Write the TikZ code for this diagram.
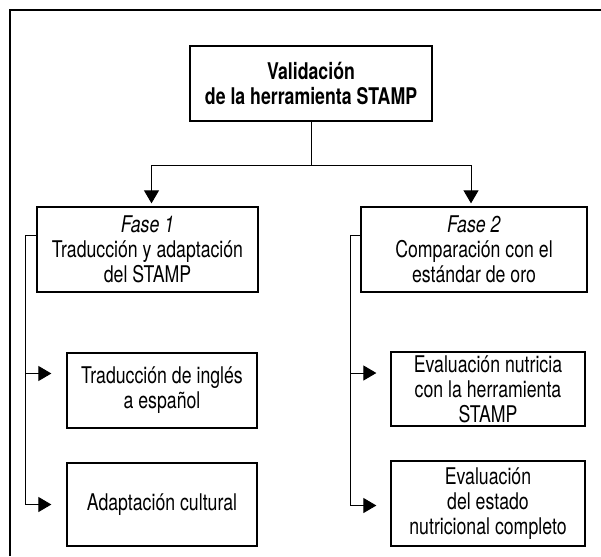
\documentclass[tikz,border=0pt]{standalone}
\usepackage{fontspec}
\setmainfont[FakeStretch=0.77]{TeX Gyre Heros}
\usetikzlibrary{arrows.meta}

\begin{document}
\begin{tikzpicture}[x=1pt,y=-1pt,
		caja/.style={draw,line width=1.3pt,align=center,inner sep=0pt,font=\fontsize{23}{25}\selectfont},
		linea/.style={line width=1pt},
		flecha/.style={line width=1pt,-{Triangle[width=15pt,length=13pt]}}]
		%\draw [help lines] (0,0) grid (601,556);
		\useasboundingbox (0,0) rectangle (601,556);
		
		%MARCO
		\draw[line width=2.5pt] (10,556) -- (10,10) -- (601,10);
		
		%CAJAS
		\node[caja,minimum width=242pt,minimum height=75pt] (valida) at (311,83.5)
			{\textbf{Validación}\\\textbf{de la herramienta STAMP}};
		\node[caja,minimum width=221pt,minimum height=85pt] (fase1) at (147.5,249.5)
			{\textit{Fase 1}\\Traducción y adaptación\\del STAMP};
		\node[caja,minimum width=226pt,minimum height=85pt] (fase2) at (474,249.5)
			{\textit{Fase 2}\\Comparación con el\\estándar de oro};
		\node[caja,minimum width=190pt,minimum height=75pt] (trad) at (162,390.5)
			{Traducción de inglés\\a español};
		\node[caja,minimum width=190pt,minimum height=83pt] (adap) at (162,504.5)
			{Adaptación cultural};
		\node[caja,minimum width=194pt,minimum height=74pt] (eval1) at (488,389)
			{Evaluación nutricia\\con la herramienta\\STAMP};
		\node[caja,minimum width=194pt,minimum height=85pt] (eval2) at (488,503.5)
			{Evaluación\\del estado\\nutricional completo};
		
		%FLECHAS
		\draw[linea] (valida.south) -- ++(0,44) coordinate (cruce);
		\draw[flecha,shorten >=3pt] (cruce) -| ([xshift=4pt]fase1.north);
		\draw[flecha,shorten >=3pt] (cruce) -| ([xshift=-3pt]fase2.north);
		
		\draw[linea] ([yshift=14pt]fase1.west) -- ++(-11,0) coordinate (ramal1);
		\draw[flecha,shorten >=15pt] (ramal1) |- ([yshift=17pt]trad.west);
		\draw[flecha,shorten >=15pt] (ramal1) |- (adap.west);
		
		\draw[linea] ([yshift=14pt]fase2.west) -- ++(-10,0) coordinate (ramal2);
		\draw[flecha,shorten >=14pt] (ramal2) |- ([yshift=16pt]eval1.west);
		\draw[flecha,shorten >=14pt] (ramal2) |- ([yshift=-2pt]eval2.west);
		
	\end{tikzpicture}
\end{document}
